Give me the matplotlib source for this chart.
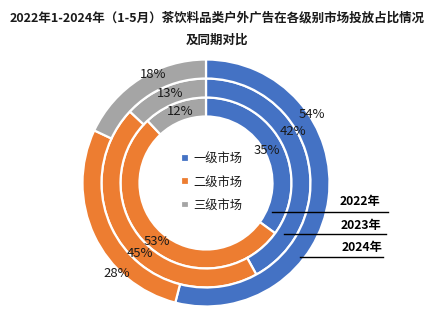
import matplotlib
matplotlib.use("Agg")
import matplotlib.pyplot as plt
import numpy as np

plt.rcParams['font.family'] = ['Noto Sans CJK SC', 'DejaVu Sans']

title = "2022年1-2024年（1-5月）茶饮料品类户外广告在各级别市场投放占比情况\n及同期对比"
categories = ["一级市场", "二级市场", "三级市场"]
years = ["2022年", "2023年", "2024年"]
values_2022 = [35, 53, 12]
values_2023 = [42, 45, 13]
values_2024 = [54, 28, 18]
colors = ["#4472C4", "#ED7D31", "#A5A5A5"]

W, H = 434, 322
fig = plt.figure(figsize=(W / 100, H / 100), dpi=100)
ax = fig.add_axes([0, 0, 1, 1])

cx, cy = 206, H - 183
r_outer = 123.5
ring_w = 19
rings = [values_2022, values_2023, values_2024]  # inner -> outer
radii = [r_outer - 2 * ring_w, r_outer - ring_w, r_outer]

wedge_sets = []
for vals, r in zip(rings, radii):
    w, _ = ax.pie(vals, radius=r, center=(cx, cy), startangle=90, counterclock=False,
                  colors=colors,
                  wedgeprops=dict(width=ring_w, edgecolor='white', linewidth=1.6))
    wedge_sets.append(w)

# data labels (angle in degrees, radius) per ring, per category
label_angles = [[28.4, 229.8, 110], [30.4, 227, 112], [32.7, 225.3, 116]]
label_radii = [[69, 76, 76], [101, 97, 96], [126, 127, 121]]
for vals, angs, rads in zip(rings, label_angles, label_radii):
    for v, a, rr in zip(vals, angs, rads):
        ax.text(cx + rr * np.cos(np.radians(a)), cy + rr * np.sin(np.radians(a)),
                f"{v}%", ha='center', va='center', fontsize=9.4, color='#1a1a1a')

# legend in the centre
leg = ax.legend(wedge_sets[2], categories, loc='center',
                bbox_to_anchor=(212, H - 182), bbox_transform=ax.transData,
                frameon=False, fontsize=8.8, handlelength=0.6, handleheight=0.6,
                handletextpad=0.4, labelspacing=0.85)
for t in leg.get_texts():
    t.set_color('#1a1a1a')

# year annotation lines
line_starts = [272, 284, 300]
line_ends = [388, 386, 383]
line_y = [212, 234, 257]
text_y = [202, 225, 248]
text_x = [360, 361, 362]
for yr, xs, xe, ly, tx, ty in zip(years, line_starts, line_ends, line_y, text_x, text_y):
    ax.plot([xs, xe], [H - ly, H - ly], color='black', lw=1.0)
    ax.text(tx, H - ty, yr, ha='center', va='center', fontsize=8.8, fontweight='bold', color='black')

fig.text(0.5, 1 - 29 / H, title, ha='center', va='center', fontsize=9, fontweight='bold',
         linespacing=1.9, color='#1a1a1a')

ax.set_xlim(0, W)
ax.set_ylim(0, H)
ax.set_aspect('equal')
ax.axis('off')
fig.savefig("out.png", dpi=100)
